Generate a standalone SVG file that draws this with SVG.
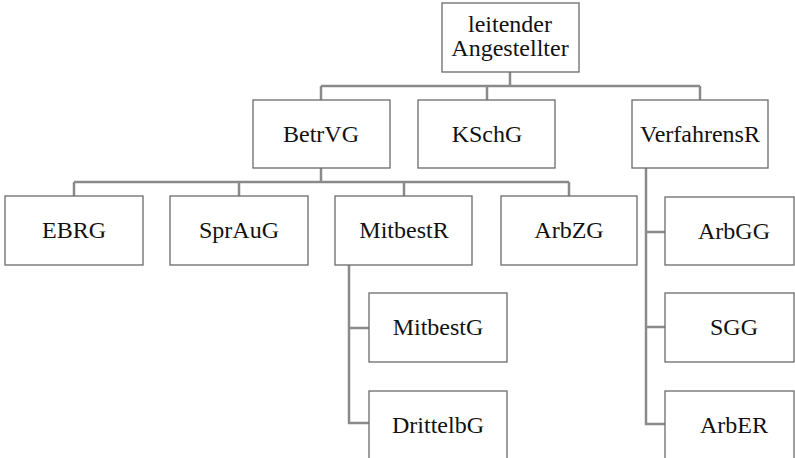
<svg xmlns="http://www.w3.org/2000/svg" width="795" height="458" viewBox="0 0 795 458">
<style>
.box{fill:#fff;stroke:#6b6b6b;stroke-width:1.3}
.lbl{font-family:"Liberation Serif","Times New Roman",serif;font-size:24px;fill:#111;text-anchor:middle}
.con{fill:none;stroke:#8a8a8a;stroke-width:2.5}
</style>
<rect width="795" height="458" fill="#fff"/>
<g id="connectors">
<path class="con" d="M510 72V86M321 86H700M321 86V100M487 86V100M700 86V100"/>
<path class="con" d="M321 168V182M74 182H569M74 182V196M239 182V196M404 182V196M569 182V196"/>
<path class="con" d="M349 265V423H369M349 328H369"/>
<path class="con" d="M646 168V424H665M646 232H665M646 327H665"/>
</g>
<g id="n-leitender"><rect class="box" x="442" y="3" width="137" height="69"/><text class="lbl" x="510" y="32">leitender</text><text class="lbl" x="510" y="56">Angestellter</text></g>
<g id="n-betrvg"><rect class="box" x="253" y="100" width="137" height="68"/><text class="lbl" x="321" y="142">BetrVG</text></g>
<g id="n-kschg"><rect class="box" x="418" y="100" width="137" height="68"/><text class="lbl" x="487" y="142">KSchG</text></g>
<g id="n-verfahrensr"><rect class="box" x="632" y="100" width="136" height="68"/><text class="lbl" x="700" y="142">VerfahrensR</text></g>
<g id="n-ebrg"><rect class="box" x="5" y="196" width="138" height="69"/><text class="lbl" x="74" y="238">EBRG</text></g>
<g id="n-sprau"><rect class="box" x="170" y="196" width="138" height="69"/><text class="lbl" x="239" y="238">SprAuG</text></g>
<g id="n-mitbestr"><rect class="box" x="335" y="196" width="137" height="69"/><text class="lbl" x="404" y="238">MitbestR</text></g>
<g id="n-arbzg"><rect class="box" x="501" y="196" width="136" height="69"/><text class="lbl" x="569" y="238">ArbZG</text></g>
<g id="n-mitbestg"><rect class="box" x="369" y="293" width="138" height="69"/><text class="lbl" x="438" y="335">MitbestG</text></g>
<g id="n-drittelbg"><rect class="box" x="369" y="391" width="138" height="69"/><text class="lbl" x="438" y="433">DrittelbG</text></g>
<g id="n-arbgg"><rect class="box" x="665" y="197" width="129" height="68"/><text class="lbl" x="734" y="239">ArbGG</text></g>
<g id="n-sgg"><rect class="box" x="665" y="293" width="129" height="69"/><text class="lbl" x="734" y="335">SGG</text></g>
<g id="n-arber"><rect class="box" x="665" y="391" width="129" height="69"/><text class="lbl" x="734" y="433">ArbER</text></g>
</svg>
